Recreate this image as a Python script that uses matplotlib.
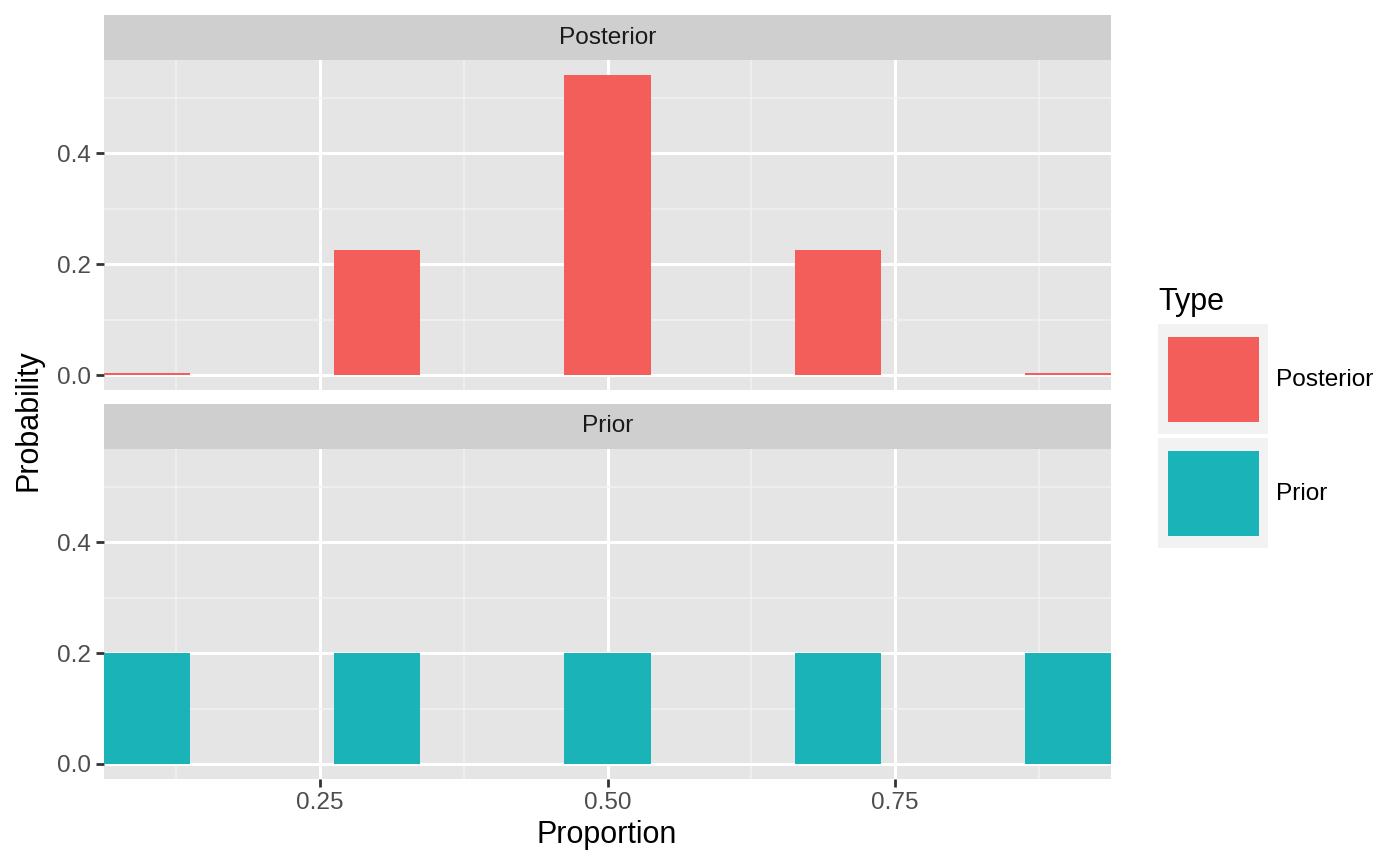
import numpy as np
import matplotlib
matplotlib.use("Agg")
import matplotlib.pyplot as plt
from matplotlib.patches import Rectangle

plt.rcParams['font.family'] = ['Liberation Sans', 'DejaVu Sans']

# data
proportion = [0.1, 0.3, 0.5, 0.7, 0.9]
prior = [0.2, 0.2, 0.2, 0.2, 0.2]
posterior = [0.0033, 0.2263, 0.5410, 0.2263, 0.0033]
facets = ["Posterior", "Prior"]
colors = {"Posterior": "#F35E5A", "Prior": "#1AB4B8"}
bar_width = 0.075

W, H = 1400, 866
fig = plt.figure(figsize=(7, 4.33), dpi=200)


def px_axes(left, top, right, bottom):
    # add axes from pixel box (top-left origin)
    return fig.add_axes([left / W, 1 - bottom / H, (right - left) / W, (bottom - top) / H])


ymax = max(posterior) * 1.05
ymin = -max(posterior) * 0.05
panels = [(60, 390, "Posterior", posterior), (449, 779, "Prior", prior)]

for i, (top, bottom, name, vals) in enumerate(panels):
    ax = px_axes(104, top, 1111, bottom)
    ax.set_facecolor("#E5E5E5")
    ax.set_xlim(0.0625, 0.9375)
    ax.set_ylim(ymin, ymax)
    ax.set_xticks([0.25, 0.5, 0.75])
    ax.set_xticks([0.125, 0.375, 0.625, 0.875], minor=True)
    ax.set_yticks([0.0, 0.2, 0.4])
    ax.set_yticks([0.1, 0.3, 0.5], minor=True)
    ax.grid(which="major", color="white", linewidth=1.1)
    ax.grid(which="minor", color="#F2F2F2", linewidth=0.55)
    ax.set_axisbelow(True)
    for s in ax.spines.values():
        s.set_visible(False)
    ax.bar(proportion, vals, width=bar_width, color=colors[name], zorder=3)
    ax.set_yticklabels(["0.0", "0.2", "0.4"])
    ax.tick_params(axis="both", which="major", length=2.75, width=1.0, color="#333333",
                   labelsize=8.8, labelcolor="#4D4D4D", pad=2)
    ax.tick_params(axis="both", which="minor", length=0)
    if i == 0:
        ax.tick_params(axis="x", which="major", length=0, labelbottom=False)
    else:
        ax.set_xticklabels(["0.25", "0.50", "0.75"])

    # strip
    sax = px_axes(104, top - 45, 1111, top)
    sax.set_facecolor("#CFCFCF")
    sax.set_xticks([])
    sax.set_yticks([])
    for s in sax.spines.values():
        s.set_visible(False)
    sax.text(0.5, 0.5, name, ha="center", va="center", fontsize=8.8, color="#1A1A1A",
             transform=sax.transAxes)

fig.text(607 / W, 1 - 835 / H, "Proportion", ha="center", va="center", fontsize=11)
fig.text(28 / W, 1 - 420 / H, "Probability", ha="center", va="center", fontsize=11,
         rotation=90)

# legend
fig.text(1158 / W, 1 - 302 / H, "Type", ha="left", va="center", fontsize=11)
key_tops = [324, 438]
for top, name in zip(key_tops, facets):
    fig.patches.append(Rectangle((1158 / W, 1 - (top + 110) / H), 110 / W, 110 / H,
                                 transform=fig.transFigure, facecolor="#F2F2F2",
                                 edgecolor="none"))
    fig.patches.append(Rectangle((1168 / W, 1 - (top + 98) / H), 91 / W, 85 / H,
                                 transform=fig.transFigure, facecolor=colors[name],
                                 edgecolor="none"))
    fig.text(1276 / W, 1 - (top + 56) / H, name, ha="left", va="center", fontsize=8.8)

fig.savefig("out.png", dpi=200)
